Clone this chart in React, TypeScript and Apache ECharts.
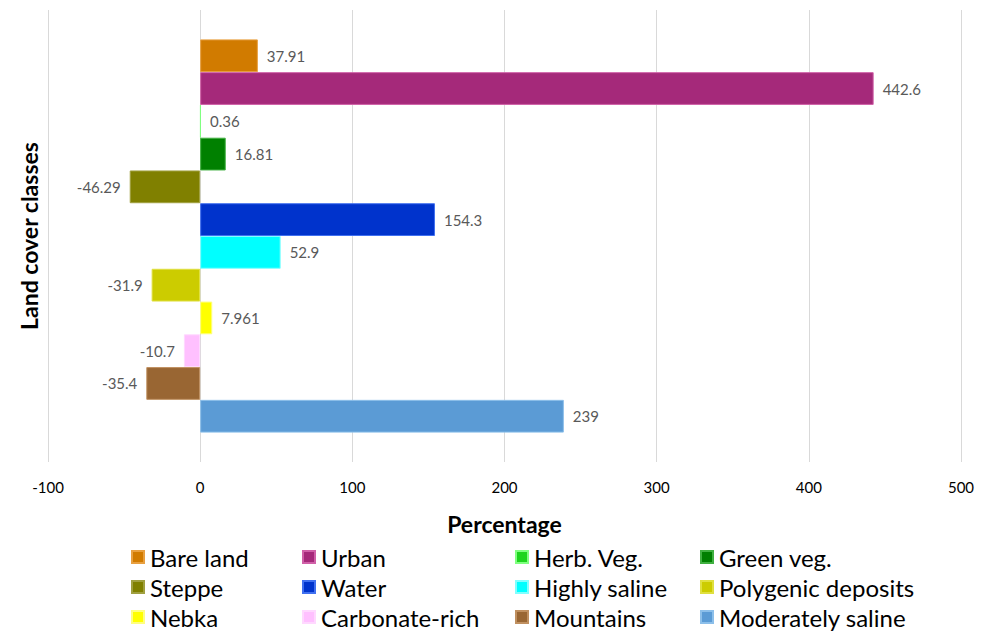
import { useEffect, useRef } from "react";
import * as echarts from "echarts";

const classes = [
  "Bare land",
  "Urban",
  "Herb. Veg.",
  "Green veg.",
  "Steppe",
  "Water",
  "Highly saline",
  "Polygenic deposits",
  "Nebka",
  "Carbonate-rich",
  "Mountains",
  "Moderately saline",
];
const values = [37.91, 442.6, 0.36, 16.81, -46.29, 154.3, 52.9, -31.9, 7.961, -10.7, -35.4, 239];
const colors = [
  "#d17b00",
  "#a5297a",
  "#1ed41e",
  "#008000",
  "#808000",
  "#0033cc",
  "#00ffff",
  "#cccc00",
  "#ffff00",
  "#ffc0ff",
  "#996633",
  "#5b9bd5",
];
const borderColors = [
  "#e8a040",
  "#d060a8",
  "#80ff80",
  "#40b040",
  "#a0a040",
  "#4070f0",
  "#80ffff",
  "#e0e040",
  "#ffff80",
  "#ffd8ff",
  "#c09060",
  "#8cbfea",
];
const xMin = -100;
const xMax = 500;
const xInterval = 100;
const legendColumns = [
  [0, 4, 8],
  [1, 5, 9],
  [2, 6, 10],
  [3, 7, 11],
];
const legendLefts = [131, 302, 515, 700];

const FONT = "Lato";

export default function App() {
  const ref = useRef<HTMLDivElement>(null);
  useEffect(() => {
    document.body.style.margin = "0";
    if (!ref.current) return;
    const chart = echarts.init(ref.current, null, { renderer: "svg" });
    const series = classes.map((name, i) => ({
      name,
      type: "bar",
      data: [values[i]],
      barGap: "0%",
      barCategoryGap: "13%",
      itemStyle: { color: colors[i], borderColor: borderColors[i], borderWidth: 1 },
      label: {
        show: true,
        position: values[i] < 0 ? "left" : "right",
        distance: 9,
        color: "#595959",
        fontFamily: FONT,
        fontSize: 15,
        formatter: "{c}",
      },
    }));
    chart.setOption({
      animation: false,
      backgroundColor: "#ffffff",
      grid: { left: 48, right: 25, top: 10, bottom: 170, containLabel: false },
      xAxis: {
        type: "value",
        min: xMin,
        max: xMax,
        interval: xInterval,
        name: "Percentage",
        nameLocation: "middle",
        nameGap: 50,
        nameTextStyle: { fontFamily: FONT, fontWeight: "bold", fontSize: 23, color: "#000" },
        axisLine: { show: false },
        axisTick: { show: false },
        axisLabel: { fontFamily: FONT, fontSize: 15, color: "#000", margin: 17 },
        splitLine: { show: true, lineStyle: { color: "#d9d9d9", width: 1 } },
      },
      yAxis: {
        type: "category",
        data: [""],
        inverse: true,
        name: "Land cover classes",
        nameLocation: "middle",
        nameGap: 8,
        nameRotate: 90,
        nameTextStyle: { fontFamily: FONT, fontWeight: "bold", fontSize: 23, color: "#000" },
        axisLine: { show: false },
        axisTick: { show: false },
        axisLabel: { show: false },
        splitLine: { show: false },
      },
      legend: legendColumns.map((col, c) => ({
        orient: "vertical",
        left: legendLefts[c],
        top: 545,
        height: 120,
        padding: 0,
        itemGap: 6,
        itemWidth: 12,
        itemHeight: 12,
        icon: "rect",
        selectedMode: false,
        data: col.map((i) => classes[i]),
        textStyle: { fontFamily: FONT, fontSize: 24, color: "#000", padding: [0, 0, 0, 1] },
      })),
      series,
    });
    return () => chart.dispose();
  }, []);
  return <div ref={ref} style={{ width: 986, height: 632 }} />;
}
